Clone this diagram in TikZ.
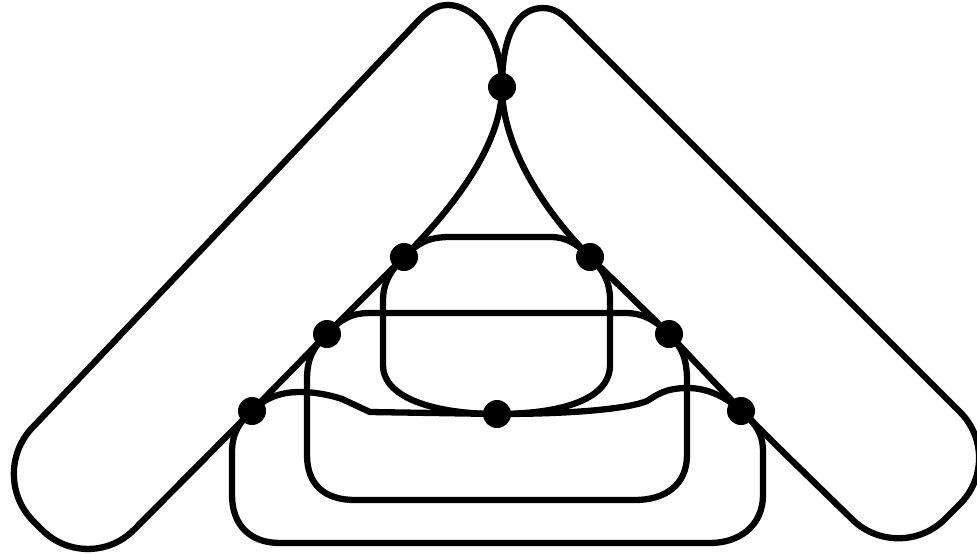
\documentclass[tikz,border=0pt]{standalone}
\tikzset{
  dot/.style={circle, fill=black, draw=none, inner sep=0pt, minimum size=28pt},
  strand/.style={draw=black, line width=6.3pt, line join=round, line cap=round},
}
\begin{document}
\begin{tikzpicture}[x=1pt,y=-1pt]
\useasboundingbox (0,0) rectangle (977,555);
\clip (0,0) rectangle (977,555);
% dots
\node[dot] (T)  at (502,87)  {};
\node[dot] (L1) at (404,257) {};
\node[dot] (R1) at (590,257) {};
\node[dot] (L2) at (327,334) {};
\node[dot] (R2) at (669,334) {};
\node[dot] (L3) at (252,411) {};
\node[dot] (R3) at (741,411) {};
\node[dot] (B)  at (497,414) {};
% left lobe
\draw[strand] (T.center) .. controls (502,30) and (470,5) .. (448,5)
  .. controls (438,5) and (430,9) .. (420,19) -- (201,250)
  [rounded corners=65pt] -- (-12.7,475.1) -- (88.1,575.9) -- (L3.center)
  [sharp corners] -- (L2.center) -- (L1.center)
  .. controls (449,212) and (502,147) .. (T.center);
% right lobe
\draw[strand] (T.center) .. controls (502,30) and (520,8) .. (543,8)
  .. controls (553,8) and (562,13) .. (572,24) -- (750,202)
  [rounded corners=65pt] -- (1006,458) -- (899,565) -- (R3.center)
  [sharp corners] -- (R2.center) -- (R1.center)
  .. controls (545,212) and (502,147) .. (T.center);
% loop through L1, R1, B
\draw[strand] (L1.center) .. controls (418,243) and (428,237) .. (450,237) -- (550,237)
  .. controls (568,237) and (578,245) .. (R1.center)
  .. controls (602,269) and (610,280) .. (610,300) -- (610,365)
  .. controls (610,400) and (560,414) .. (B.center)
  .. controls (440,414) and (383,400) .. (383,365) -- (383,300)
  .. controls (383,282) and (392,269) .. (L1.center);
% loop through L2, R2
\draw[strand] (L2.center) .. controls (340,320) and (350,313) .. (370,313) -- (625,313)
  .. controls (645,313) and (657,322) .. (R2.center)
  .. controls (681,346) and (687,358) .. (687,380) -- (687,455)
  .. controls (687,485) and (665,500) .. (635,500) -- (355,500)
  .. controls (325,500) and (307,485) .. (307,455) -- (307,380)
  .. controls (307,358) and (313,348) .. (L2.center);
% loop through L3, B, R3
\draw[strand] (L3.center) .. controls (265,398) and (280,392) .. (300,392)
  .. controls (315,392) and (330,395) .. (342,399) -- (370,412) -- (B.center)
  .. controls (580,414) and (630,408) .. (647,401)
  .. controls (657,395) and (665,388) .. (688,388)
  .. controls (708,388) and (728,398) .. (R3.center)
  .. controls (755,423) and (763,433) .. (763,452) -- (763,495)
  .. controls (763,525) and (740,543) .. (710,543) -- (280,543)
  .. controls (250,543) and (232,525) .. (232,495) -- (232,452)
  .. controls (232,433) and (240,421) .. (L3.center);
\end{tikzpicture}
\end{document}
